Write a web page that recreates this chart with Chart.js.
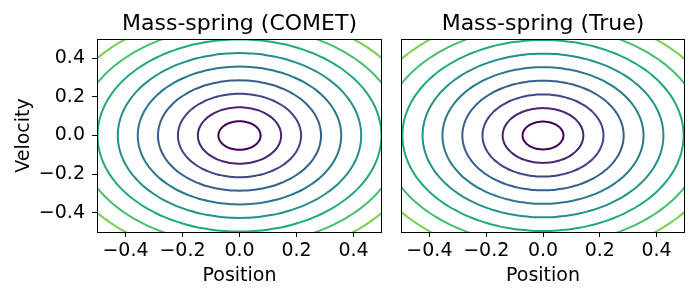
<!DOCTYPE html>
<html>
<head>
<meta charset="utf-8">
<script src="https://cdn.jsdelivr.net/npm/chart.js@4.4.0/dist/chart.umd.min.js"></script>
<style>
  html, body { margin: 0; padding: 0; background: #fff; }
  #wrap { position: relative; width: 700px; height: 300px; }
  #wrap canvas { position: absolute; top: 0; }
  #cometChart { left: 0; }
  #trueChart { left: 390px; }
</style>
</head>
<body>
<div id="wrap">
  <canvas id="cometChart" width="390" height="300"></canvas>
  <canvas id="trueChart" width="310" height="300"></canvas>
</div>
<script>
// contour radii (data units, position/velocity)
const cometLevels = [0.074, 0.146, 0.216, 0.286, 0.357, 0.427, 0.498, 0.568, 0.640];
const trueLevels = [0.072, 0.142, 0.213, 0.284, 0.354, 0.424, 0.495, 0.566, 0.637];
// viridis, one colour per level
const levelColors = ['#440154', '#482475', '#414487', '#355f8d', '#2a788e', '#21918c', '#22a884', '#44bf70', '#7ad151'];
const xTicks = [-0.4, -0.2, 0.0, 0.2, 0.4];
const yTicks = [-0.4, -0.2, 0.0, 0.2, 0.4];
const titles = ['Mass-spring (COMET)', 'Mass-spring (True)'];

Chart.defaults.font.family = 'DejaVu Sans';
Chart.defaults.color = '#000';

// closed level curve for a given radius
function ring(r) {
    const pts = [];
    const n = 120;
    for (let i = 0; i <= n; i++) {
        const a = (i / n) * Math.PI * 2;
        pts.push({ x: r * Math.cos(a), y: r * Math.sin(a) });
    }
    return pts;
}

function fmtTick(v) {
    const s = Number(v).toFixed(1);
    return s === '-0.0' ? '0.0' : s.replace('-', '\u2212');
}

// matplotlib-style box around the axes
const framePlugin = {
    id: 'frame',
    afterDraw(chart) {
        const { ctx, chartArea: a } = chart;
        ctx.save();
        ctx.strokeStyle = '#000';
        ctx.lineWidth = 1;
        ctx.strokeRect(Math.round(a.left) + 0.5, Math.round(a.top) + 0.5,
            Math.round(a.right - a.left) - 1, Math.round(a.bottom - a.top));
        ctx.restore();
    }
};

function makeChart(id, levels, title, showY, pad) {
    const ctx = document.getElementById(id).getContext('2d');
    return new Chart(ctx, {
        type: 'scatter',
        data: {
            datasets: levels.map((r, i) => ({
                data: ring(r),
                showLine: true,
                borderColor: levelColors[i],
                borderWidth: 2,
                pointRadius: 0,
                tension: 0.3,
                clip: 0
            }))
        },
        options: {
            responsive: false,
            animation: false,
            devicePixelRatio: 1,
            layout: { padding: pad },
            plugins: {
                legend: { display: false },
                tooltip: { enabled: false },
                title: {
                    display: true,
                    text: title,
                    fullSize: false,
                    font: { size: 22, weight: 'normal' },
                    padding: { top: 11, bottom: 1.6 }
                }
            },
            scales: {
                x: {
                    type: 'linear',
                    min: -0.5, max: 0.5,
                    afterBuildTicks: s => { s.ticks = xTicks.map(v => ({ value: v })); },
                    afterFit: s => { s.height = 68; },
                    border: { display: false },
                    grid: { drawOnChartArea: false, drawTicks: true, tickLength: 5, tickColor: '#000', tickWidth: 1 },
                    ticks: { font: { size: 19 }, padding: 3, maxRotation: 0, callback: fmtTick },
                    title: { display: true, text: 'Position', font: { size: 19 }, padding: { top: 0, bottom: 13 } }
                },
                y: {
                    type: 'linear',
                    display: showY,
                    min: -0.5, max: 0.5,
                    afterBuildTicks: s => { s.ticks = yTicks.map(v => ({ value: v })); },
                    afterFit: s => { s.width = showY ? 97 : 0; },
                    border: { display: false },
                    grid: { drawOnChartArea: false, drawTicks: true, tickLength: 5, tickColor: '#000', tickWidth: 1 },
                    ticks: { font: { size: 19 }, padding: 7, callback: fmtTick },
                    title: { display: true, text: 'Velocity', font: { size: 19 }, padding: { top: 13, bottom: 0 } }
                }
            }
        },
        plugins: [framePlugin]
    });
}

makeChart('cometChart', cometLevels, titles[0], true, { left: 0, right: 8, top: 0, bottom: 0 });
makeChart('trueChart', trueLevels, titles[1], false, { left: 11, right: 15, top: 0, bottom: 0 });
</script>
</body>
</html>
